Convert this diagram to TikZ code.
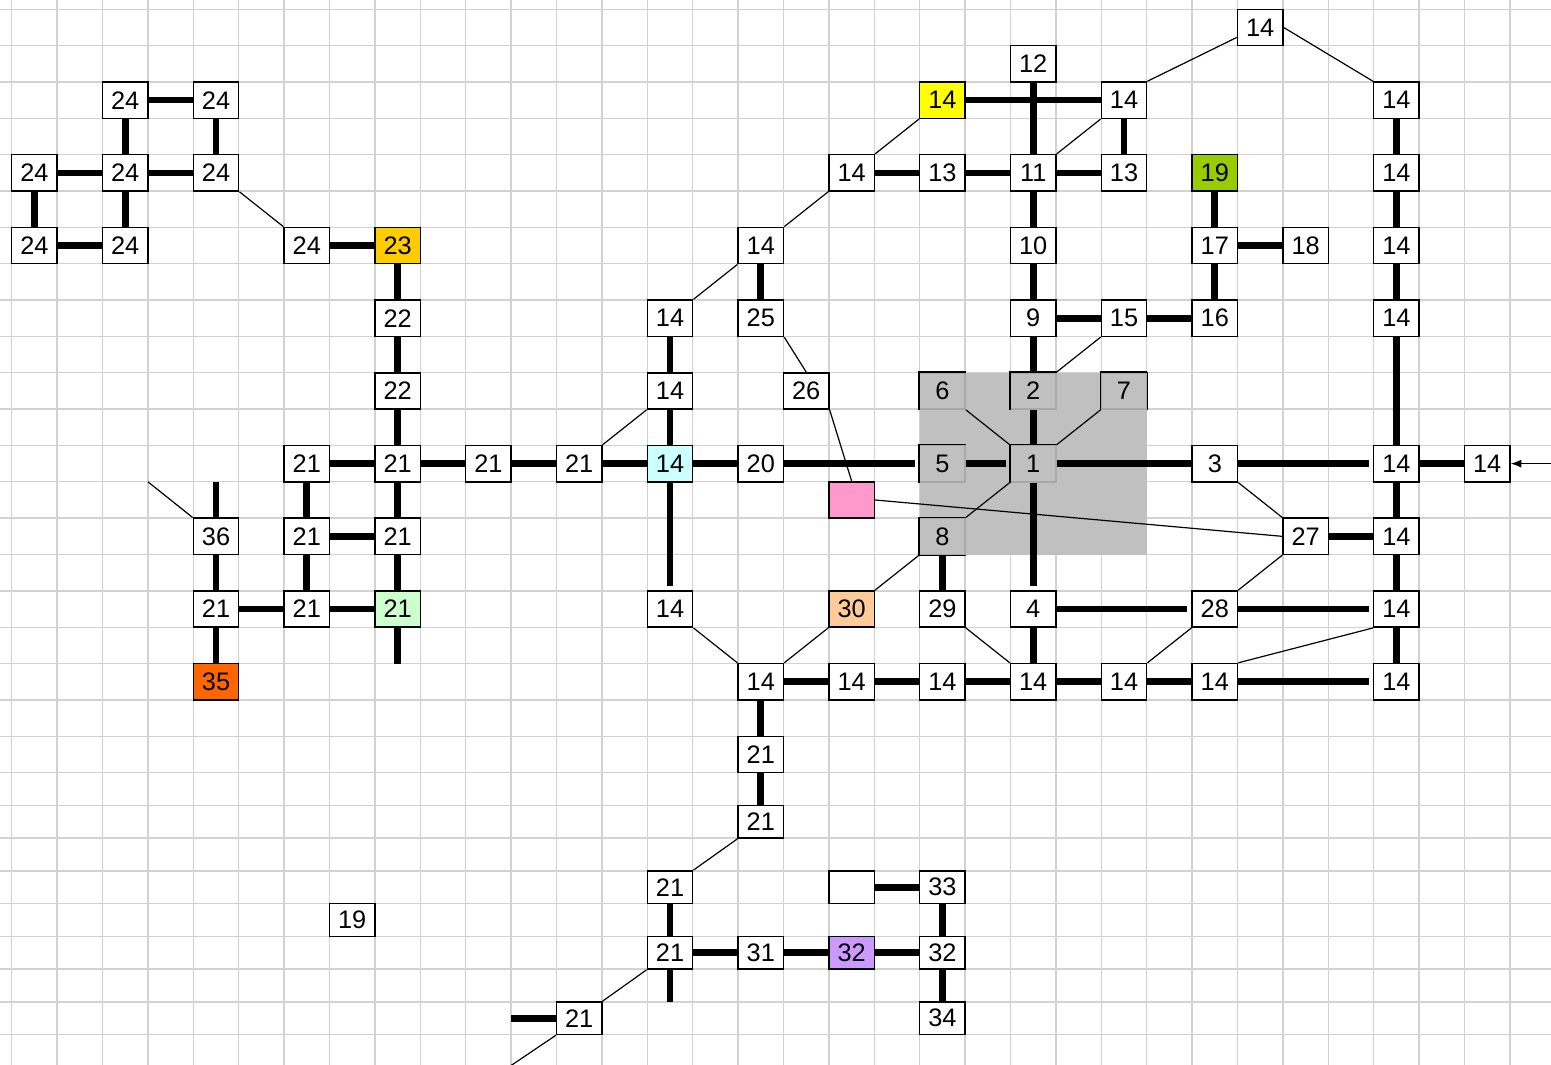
\documentclass[tikz,border=0pt]{standalone}
\usepackage{fontspec}
\setmainfont{Liberation Sans}
\usepackage{tikz}
\usetikzlibrary{arrows.meta,calc}
\definecolor{gridgray}{HTML}{D2D2D2}
\definecolor{cellgray}{HTML}{C0C0C0}
\definecolor{edgegray}{HTML}{A8A8A8}
\definecolor{cellamber}{HTML}{FFCC00}
\definecolor{cellcyan}{HTML}{CCFFFF}
\definecolor{celllemon}{HTML}{FFFF00}
\definecolor{cellolive}{HTML}{99CC00}
\definecolor{cellrose}{HTML}{FF99CC}
\definecolor{cellpeach}{HTML}{FFCC99}
\definecolor{cellmint}{HTML}{CCFFCC}
\definecolor{cellorange}{HTML}{FF6600}
\definecolor{celllilac}{HTML}{CC99FF}

\begin{document}
\begin{tikzpicture}[x=34.05pt,y=-27.26pt,
  cell/.style={draw,fill=white,line width=1.1pt,minimum width=34.05pt,
               minimum height=27.26pt,inner sep=0pt,font=\fontsize{19}{21}\selectfont},
  lowcell/.style={cell,minimum height=24.56pt},
  greycell/.style={cell,fill=cellgray,draw=edgegray},
  link/.style={line width=5pt},
  shortlink/.style={link,shorten >=3pt},
  wire/.style={line width=0.9pt},
]
  \useasboundingbox (-0.2577,-0.2558) rectangle (33.905,29.043);

  % sheet grid
  \foreach \c in {0,...,33} \draw[gridgray,line width=1pt] (\c,-0.3) -- (\c,29.1);
  \foreach \r in {0,...,21} \draw[gridgray,line width=1pt] (-0.3,\r) -- (33.95,\r);
  \foreach \r in {21.901,22.802,23.703,24.604,25.505,26.406,27.307,28.208}
    \draw[gridgray,line width=1pt] (-0.3,\r) -- (33.95,\r);

  \fill[cellgray] (20,10) rectangle (25,15);

  % row 0 - 2
  \node[cell] (c27r0) at (27.5,0.5) {14};
  \node[cell] (c22r1) at (22.5,1.5) {12};
  \node[cell] (c2r2)  at (2.5,2.5)  {24};
  \node[cell] (c4r2)  at (4.5,2.5)  {24};
  \node[cell,fill=celllemon] (c20r2) at (20.5,2.5) {14};
  \node[cell] (c24r2) at (24.5,2.5) {14};
  \node[cell] (c30r2) at (30.5,2.5) {14};
  % row 4
  \node[cell] (c0r4)  at (0.5,4.5)  {24};
  \node[cell] (c2r4)  at (2.5,4.5)  {24};
  \node[cell] (c4r4)  at (4.5,4.5)  {24};
  \node[cell] (c18r4) at (18.5,4.5) {14};
  \node[cell] (c20r4) at (20.5,4.5) {13};
  \node[cell] (c22r4) at (22.5,4.5) {11};
  \node[cell] (c24r4) at (24.5,4.5) {13};
  \node[cell,fill=cellolive] (c26r4) at (26.5,4.5) {19};
  \node[cell] (c30r4) at (30.5,4.5) {14};
  % row 6
  \node[cell] (c0r6)  at (0.5,6.5)  {24};
  \node[cell] (c2r6)  at (2.5,6.5)  {24};
  \node[cell] (c6r6)  at (6.5,6.5)  {24};
  \node[cell,fill=cellamber] (c8r6) at (8.5,6.5) {23};
  \node[cell] (c16r6) at (16.5,6.5) {14};
  \node[cell] (c22r6) at (22.5,6.5) {10};
  \node[cell] (c26r6) at (26.5,6.5) {17};
  \node[cell] (c28r6) at (28.5,6.5) {18};
  \node[cell] (c30r6) at (30.5,6.5) {14};
  % row 8
  \node[cell] (c8r8)  at (8.5,8.5)  {22};
  \node[cell] (c14r8) at (14.5,8.5) {14};
  \node[cell] (c16r8) at (16.5,8.5) {25};
  \node[cell] (c22r8) at (22.5,8.5) {9};
  \node[cell] (c24r8) at (24.5,8.5) {15};
  \node[cell] (c26r8) at (26.5,8.5) {16};
  \node[cell] (c30r8) at (30.5,8.5) {14};
  % row 10
  \node[cell] (c8r10)  at (8.5,10.5)  {22};
  \node[cell] (c14r10) at (14.5,10.5) {14};
  \node[cell] (c17r10) at (17.5,10.5) {26};
  \node[greycell] (c20r10) at (20.5,10.5) {6};
  \node[greycell] (c22r10) at (22.5,10.5) {2};
  \node[greycell] (c24r10) at (24.5,10.5) {7};
  % row 12 - 13
  \node[cell] (c6r12)  at (6.5,12.5)  {21};
  \node[cell] (c8r12)  at (8.5,12.5)  {21};
  \node[cell] (c10r12) at (10.5,12.5) {21};
  \node[cell] (c12r12) at (12.5,12.5) {21};
  \node[cell,fill=cellcyan] (c14r12) at (14.5,12.5) {14};
  \node[cell] (c16r12) at (16.5,12.5) {20};
  \node[greycell] (c20r12) at (20.5,12.5) {5};
  \node[greycell] (c22r12) at (22.5,12.5) {1};
  \node[cell] (c26r12) at (26.5,12.5) {3};
  \node[cell] (c30r12) at (30.5,12.5) {14};
  \node[cell] (c32r12) at (32.5,12.5) {14};
  \node[cell,fill=cellrose] (c18r13) at (18.5,13.5) {};
  % row 14
  \node[cell] (c4r14)  at (4.5,14.5)  {36};
  \node[cell] (c6r14)  at (6.5,14.5)  {21};
  \node[cell] (c8r14)  at (8.5,14.5)  {21};
  \node[greycell] (c20r14) at (20.5,14.5) {8};
  \node[cell] (c28r14) at (28.5,14.5) {27};
  \node[cell] (c30r14) at (30.5,14.5) {14};
  % row 16
  \node[cell] (c4r16)  at (4.5,16.5)  {21};
  \node[cell] (c6r16)  at (6.5,16.5)  {21};
  \node[cell,fill=cellmint] (c8r16) at (8.5,16.5) {21};
  \node[cell] (c14r16) at (14.5,16.5) {14};
  \node[cell,fill=cellpeach] (c18r16) at (18.5,16.5) {30};
  \node[cell] (c20r16) at (20.5,16.5) {29};
  \node[cell] (c22r16) at (22.5,16.5) {4};
  \node[cell] (c26r16) at (26.5,16.5) {28};
  \node[cell] (c30r16) at (30.5,16.5) {14};
  % row 18 - 20
  \node[cell,fill=cellorange] (c4r18) at (4.5,18.5) {35};
  \node[cell] (c16r18) at (16.5,18.5) {14};
  \node[cell] (c18r18) at (18.5,18.5) {14};
  \node[cell] (c20r18) at (20.5,18.5) {14};
  \node[cell] (c22r18) at (22.5,18.5) {14};
  \node[cell] (c24r18) at (24.5,18.5) {14};
  \node[cell] (c26r18) at (26.5,18.5) {14};
  \node[cell] (c30r18) at (30.5,18.5) {14};
  \node[cell] (c16r20) at (16.5,20.5) {21};
  % lower rows
  \node[lowcell] (c16r22) at (16.5,22.352) {21};
  \node[lowcell] (c14r24) at (14.5,24.154) {21};
  \node[lowcell] (c18r24) at (18.5,24.154) {};
  \node[lowcell] (c20r24) at (20.5,24.154) {33};
  \node[lowcell] (c7r25)  at (7.5,25.054)  {19};
  \node[lowcell] (c14r26) at (14.5,25.956) {21};
  \node[lowcell] (c16r26) at (16.5,25.956) {31};
  \node[lowcell,fill=celllilac] (c18r26) at (18.5,25.956) {32};
  \node[lowcell] (c20r26) at (20.5,25.956) {32};
  \node[lowcell] (c12r28) at (12.5,27.758) {21};
  \node[lowcell] (c20r28) at (20.5,27.758) {34};

  \foreach \g in {c20r10,c22r10,c24r10,c20r12,c22r12,c20r14}
    \draw[line width=1.1pt] (\g.south west) |- (\g.north east);
  \draw[line width=1.1pt] (c24r10.north east) -- (c24r10.south east);
  \draw[line width=1.1pt] (c20r14.south west) -- (c20r14.south east);

  \coordinate (end36) at (4.5,13);
  \coordinate (tail36) at (3,13);
  \coordinate (end21a) at (8.5,18);
  \coordinate (end21b) at (14.5,27.307);
  \coordinate (end21c) at (11,27.758);
  \coordinate (tail21) at (10.95,29.1);
  \coordinate (feed) at (33.95,12.5);

  % thick links
  \draw[link] (c2r2) -- (c4r2);  \draw[link] (c2r2) -- (c2r4);
  \draw[link] (c4r2) -- (c4r4);  \draw[link] (c0r4) -- (c2r4);
  \draw[link] (c2r4) -- (c4r4);  \draw[link] (c0r4) -- (c0r6);
  \draw[link] (c2r4) -- (c2r6);  \draw[link] (c0r6) -- (c2r6);
  \draw[link] (c6r6) -- (c8r6);  \draw[link] (c8r6) -- (c8r8);
  \draw[link] (c8r8) -- (c8r10); \draw[link] (c8r10) -- (c8r12);
  \draw[link] (c6r12) -- (c8r12);   \draw[link] (c8r12) -- (c10r12);
  \draw[link] (c10r12) -- (c12r12); \draw[link] (c12r12) -- (c14r12);
  \draw[link] (c14r12) -- (c16r12); \draw[shortlink] (c16r12) -- (c20r12);
  \draw[shortlink] (c20r12) -- (c22r12); \draw[link] (c22r12) -- (c26r12);
  \draw[shortlink] (c26r12) -- (c30r12); \draw[link] (c30r12) -- (c32r12);
  \draw[link] (c6r12) -- (c6r14);  \draw[link] (c8r12) -- (c8r14);
  \draw[link] (c6r14) -- (c8r14);  \draw[link] (c6r14) -- (c6r16);
  \draw[link] (c8r14) -- (c8r16);  \draw[link] (c4r16) -- (c6r16);
  \draw[link] (c6r16) -- (c8r16);  \draw[link] (c8r16.south) -- (end21a);
  \draw[link] (c4r14.north) -- (end36);
  \draw[link] (c4r14) -- (c4r16);  \draw[link] (c4r16) -- (c4r18);
  \draw[link] (c14r12) -- (c14r10); \draw[link] (c14r10) -- (c14r8);
  \draw[shortlink] (c14r12) -- (c14r16); \draw[link] (c16r6) -- (c16r8);
  \draw[link] (c18r4) -- (c20r4);  \draw[link] (c20r4) -- (c22r4);
  \draw[link] (c22r4) -- (c24r4);  \draw[link] (c20r2) -- (c24r2);
  \draw[link] (c22r1) -- (c22r4);  \draw[link] (c24r2) -- (c24r4);
  \draw[link] (c30r2) -- (c30r4);  \draw[link] (c30r4) -- (c30r6);
  \draw[link] (c30r6) -- (c30r8);  \draw[link] (c30r8) -- (c30r12);
  \draw[link] (c30r12) -- (c30r14); \draw[link] (c30r14) -- (c30r16);
  \draw[link] (c30r16) -- (c30r18);
  \draw[link] (c26r4) -- (c26r6);  \draw[link] (c26r6) -- (c28r6);
  \draw[link] (c26r6) -- (c26r8);  \draw[link] (c24r8) -- (c26r8);
  \draw[link] (c22r8) -- (c24r8);
  \draw[link] (c22r4) -- (c22r6);  \draw[link] (c22r6) -- (c22r8);
  \draw[link] (c22r8) -- (c22r10); \draw[link] (c22r10) -- (c22r12);
  \draw[shortlink] (c22r12) -- (c22r16); \draw[link] (c22r16) -- (c22r18);
  \draw[link] (c20r14) -- (c20r16);
  \draw[link] (c16r18) -- (c18r18); \draw[link] (c18r18) -- (c20r18);
  \draw[link] (c20r18) -- (c22r18); \draw[link] (c22r18) -- (c24r18);
  \draw[link] (c24r18) -- (c26r18); \draw[shortlink] (c26r18) -- (c30r18);
  \draw[shortlink] (c22r16) -- (c26r16); \draw[shortlink] (c26r16) -- (c30r16);
  \draw[link] (c28r14) -- (c30r14);
  \draw[link] (c16r18) -- (c16r20); \draw[link] (c16r20) -- (c16r22);
  \draw[link] (c14r24) -- (c14r26); \draw[link] (c14r26) -- (c16r26);
  \draw[link] (c16r26) -- (c18r26); \draw[link] (c18r26) -- (c20r26);
  \draw[link] (c14r26.south) -- (end21b);
  \draw[link] (c12r28.west) -- (end21c);
  \draw[link] (c18r24) -- (c20r24); \draw[link] (c20r24) -- (c20r26);
  \draw[link] (c20r26) -- (c20r28);

  % thin wires
  \draw[wire] (c4r4.south east) -- (c6r6.north west);
  \draw[wire] (c4r14.north west) -- (tail36);
  \draw[wire] (c12r12.north east) -- (c14r10.south west);
  \draw[wire] (c14r8.north east) -- (c16r6.south west);
  \draw[wire] (c16r6.north east) -- (c18r4.south west);
  \draw[wire] (c18r4.north east) -- (c20r2.south west);
  \draw[wire] (c22r4.north east) -- (c24r2.south west);
  \draw[wire] (c24r2.north east) -- (c27r0.203);
  \draw[wire] (c27r0.east) -- (c30r2.north west);
  \draw[wire] (c16r8.south east) -- (c17r10.north);
  \draw[wire] (c17r10.south east) -- (c18r13.north);
  \draw[wire] (c18r13.east) -- (c28r14.west);
  \draw[wire] (c24r8.south west) -- (c22r10.north east);
  \draw[wire] (c20r10.south east) -- (c22r12.north west);
  \draw[wire] (c24r10.south west) -- (c22r12.north east);
  \draw[wire] (c20r14.north east) -- (c22r12.south west);
  \draw[wire] (c20r14.south west) -- (c18r16.north east);
  \draw[wire] (c18r16.south west) -- (c16r18.north east);
  \draw[wire] (c14r16.south east) -- (c16r18.north west);
  \draw[wire] (c20r16.south east) -- (c22r18.north west);
  \draw[wire] (c26r16.south west) -- (c24r18.north east);
  \draw[wire] (c30r16.south west) -- (c26r18.north east);
  \draw[wire] (c26r12.south east) -- (c28r14.north west);
  \draw[wire] (c28r14.south west) -- (c26r16.north east);
  \draw[wire] (c16r22.south west) -- (c14r24.north east);
  \draw[wire] (c14r26.south west) -- (c12r28.north east);
  \draw[wire] (c12r28.south west) -- (tail21);
  \draw[wire,-{Latex[length=8pt,width=6pt]}] (feed) -- (c32r12.east);
\end{tikzpicture}
\end{document}
